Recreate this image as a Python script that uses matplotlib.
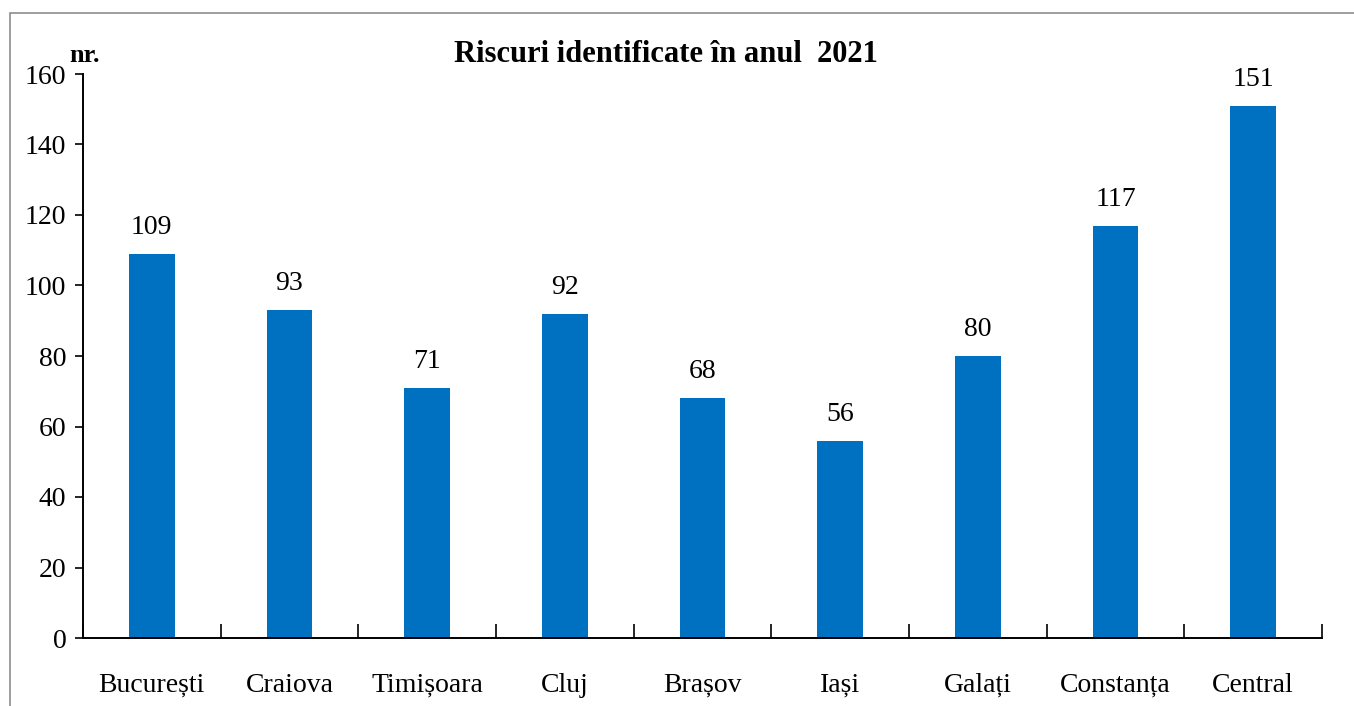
import matplotlib
matplotlib.use('Agg')
import matplotlib.pyplot as plt
from matplotlib.patches import Rectangle

# data
regions = ['București', 'Craiova', 'Timișoara', 'Cluj', 'Brașov', 'Iași', 'Galați', 'Constanța', 'Central']
risks = [109, 93, 71, 92, 68, 56, 80, 117, 151]
y_ticks = [0, 20, 40, 60, 80, 100, 120, 140, 160]

plt.rcParams['font.family'] = ['Liberation Serif', 'DejaVu Serif']

W, H = 1354, 706
fig = plt.figure(figsize=(W / 100, H / 100), dpi=100)
ax = fig.add_axes([83 / W, 1 - 638 / H, (1322 - 83) / W, (638 - 74) / H])

# outer frame (runs off the right and bottom edges)
fig.patches.append(Rectangle((10 / W, -0.1), 1.2, 1 - 13 / H + 0.1, transform=fig.transFigure,
                             fill=False, edgecolor='#8c8c8c', linewidth=1.2))

x = list(range(len(regions)))
bars = ax.bar(x, risks, width=0.33, color='#0070C0')
for xi, v in zip(x, risks):
    ax.annotate(str(v), (xi, v), xytext=(0, 10), textcoords='offset points',
                ha='center', va='bottom', fontsize=20)

ax.set_xlim(-0.5, len(regions) - 0.5)
ax.set_ylim(0, 160)
ax.set_yticks(y_ticks)
ax.tick_params(axis='y', direction='out', length=6, width=1.2, labelsize=20, pad=6)

ax.set_xticks([i + 0.5 for i in range(-1, len(regions))])
ax.set_xticklabels([])
ax.tick_params(axis='x', which='major', direction='in', length=10, width=1.2)
ax.set_xticks(x, minor=True)
ax.set_xticklabels(regions, minor=True)
ax.tick_params(axis='x', which='minor', length=0, labelsize=20, pad=25)

for s in ['top', 'right']:
    ax.spines[s].set_visible(False)
for s in ['left', 'bottom']:
    ax.spines[s].set_linewidth(1.4)

fig.text(666 / W, 1 - 55 / H, 'Riscuri identificate în anul  2021', ha='center', va='center',
         fontsize=22, fontweight='bold')
fig.text(69 / W, 1 - 62 / H, 'nr.', ha='left', va='baseline', fontsize=19, fontweight='bold')

fig.savefig('out.png', dpi=100)
